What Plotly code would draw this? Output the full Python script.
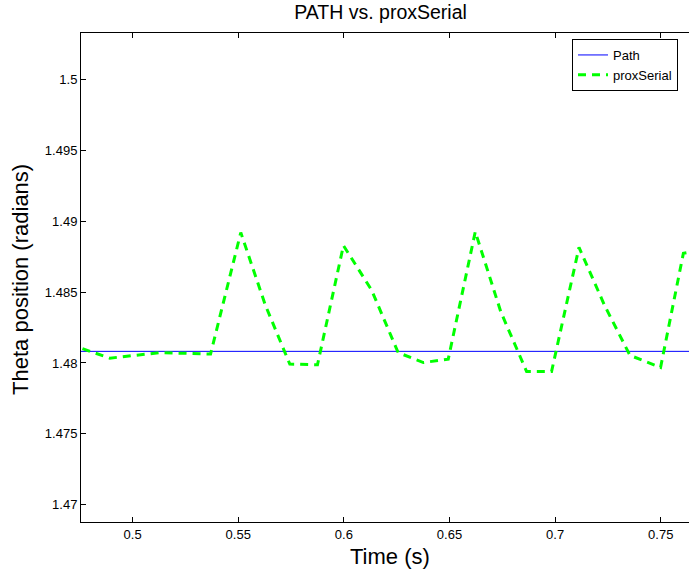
import plotly.graph_objects as go

# ---- data ----
time_s = [0.4700, 0.4892, 0.5015, 0.5129, 0.5252, 0.5369, 0.5512, 0.5628,
          0.5744, 0.5875, 0.5998, 0.6131, 0.6257, 0.6376, 0.6494, 0.6622,
          0.6743, 0.6865, 0.6983, 0.7113, 0.7233, 0.7354, 0.7499, 0.7607,
          0.7728]
prox_serial = [1.48133, 1.48034, 1.48054, 1.48073, 1.48068, 1.48063, 1.48920,
               1.48409, 1.47992, 1.47987, 1.48829, 1.48515, 1.48073, 1.48003,
               1.48027, 1.48926, 1.48360, 1.47939, 1.47939, 1.48816, 1.48409,
               1.48054, 1.47968, 1.48774, 1.48806]
path_value = 1.48082
path = [path_value for _ in time_s]

x_range = [0.47557, 0.76336]
y_range = [1.46878, 1.50328]
x_tickvals = [0.5, 0.55, 0.6, 0.65, 0.7, 0.75]
x_ticktext = ["0.5", "0.55", "0.6", "0.65", "0.7", "0.75"]
y_tickvals = [1.47, 1.475, 1.48, 1.485, 1.49, 1.495, 1.5]
y_ticktext = ["1.47", "1.475", "1.48", "1.485", "1.49", "1.495", "1.5"]

FONT = "Liberation Sans, Arial, Helvetica, sans-serif"

fig = go.Figure()
fig.add_trace(go.Scatter(x=time_s, y=path, mode="lines", name="Path",
                         line=dict(color="#0000FF", width=1)))
fig.add_trace(go.Scatter(x=time_s, y=prox_serial, mode="lines", name="proxSerial",
                         line=dict(color="#00FF00", width=3, dash="8px,6px")))

axis_common = dict(showgrid=False, zeroline=False, showline=True, linecolor="black",
                   linewidth=1, ticks="inside", ticklen=5, tickcolor="black",
                   tickwidth=1, tickfont=dict(family=FONT, size=13, color="black"))

fig.update_layout(
    width=689, height=569,
    margin=dict(l=81, r=0, t=33, b=47),
    paper_bgcolor="white", plot_bgcolor="white",
    font=dict(family=FONT, color="black"),
    title=dict(text="PATH vs. proxSerial", font=dict(family=FONT, size=19.5, color="black"),
               x=380.5 / 689, xref="container", xanchor="center",
               y=1 - 5 / 569, yref="container", yanchor="top"),
    xaxis=dict(range=x_range, tickvals=x_tickvals, ticktext=x_ticktext,
               mirror="ticks", **axis_common),
    yaxis=dict(range=y_range, tickvals=y_tickvals, ticktext=y_ticktext,
               mirror=False, **axis_common),
    showlegend=True,
    legend=dict(x=(572 - 81) / 608, y=1 - (39 - 33) / 489.3, xanchor="left", yanchor="top",
                bgcolor="white", bordercolor="black", borderwidth=1,
                font=dict(family=FONT, size=13, color="black"),
                tracegroupgap=0),
    annotations=[
        dict(text="Time (s)", xref="paper", yref="paper", x=(390 - 81) / 608, y=0,
             xanchor="center", yanchor="middle", yshift=-34, showarrow=False,
             font=dict(family=FONT, size=22, color="black")),
        dict(text="Theta position (radians)", xref="paper", yref="paper",
             x=(21 - 81) / 608, y=0.495, xanchor="center", yanchor="middle",
             textangle=-90, showarrow=False,
             font=dict(family=FONT, size=22, color="black")),
    ],
)

fig.write_html("out.html", config={"displayModeBar": False},
               post_script="document.body.style.margin='0';")
